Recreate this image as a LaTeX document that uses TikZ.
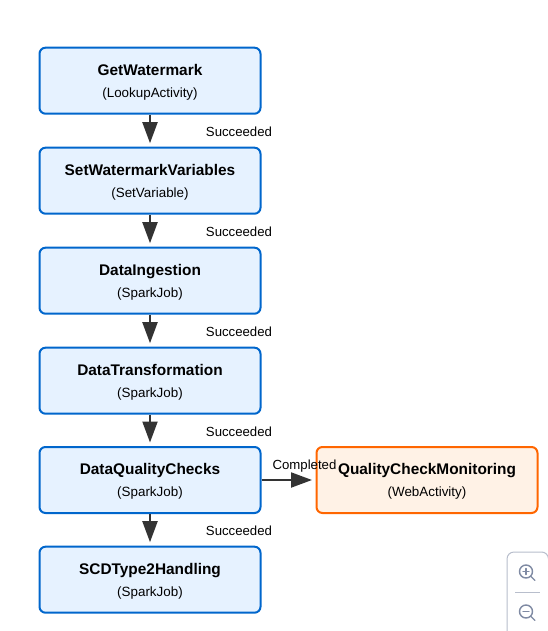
\documentclass[tikz,border=0pt]{standalone}
\usepackage{fontspec}
\setmainfont{Liberation Sans}
\usetikzlibrary{arrows.meta,positioning}
\definecolor{bluefill}{HTML}{E6F2FF}
\definecolor{blueline}{HTML}{0066CC}
\definecolor{orangefill}{HTML}{FFF2E6}
\definecolor{orangeline}{HTML}{FF6600}
\definecolor{arrowgrey}{HTML}{333333}
\definecolor{ctrlgrey}{HTML}{7F8AA3}
\definecolor{ctrledge}{HTML}{B8BECC}
\tikzset{
  x=1pt,y=-1pt,
  activity/.style={rectangle,rounded corners=6pt,line width=2pt,minimum width=221pt,minimum height=66pt,inner sep=0pt,align=center,draw=blueline,fill=bluefill},
  monitor/.style={activity,draw=orangeline,fill=orangefill},
  flow/.style={draw=arrowgrey,line width=2pt,-{Triangle[length=21pt,width=15pt]},shorten >=3.5pt},
  edgelabel/.style={inner sep=0pt,font=\fontsize{13.2}{15}\selectfont,text=black,text height=9.6pt,text depth=0pt},
  ctrlicon/.style={draw=ctrlgrey,line width=1.4pt,line cap=round},
}
\newcommand{\act}[2]{{\fontsize{15.4}{18}\selectfont\bfseries\rule[-4pt]{0pt}{19pt}#1}\\[7.5pt]{\fontsize{13.4}{15}\selectfont\rule[-4pt]{0pt}{13pt}#2}}
\begin{document}
\begin{tikzpicture}
\useasboundingbox (0,0) rectangle (547,631);
\fill[white] (0,0) rectangle (547,631);
\node[activity] (a) at (150,80.7) {\act{GetWatermark}{(LookupActivity)}};
\node[activity] (b) at (150,180.7) {\act{SetWatermarkVariables}{(SetVariable)}};
\node[activity] (c) at (150,280.7) {\act{DataIngestion}{(SparkJob)}};
\node[activity] (d) at (150,380.7) {\act{DataTransformation}{(SparkJob)}};
\node[activity] (e) at (150,480) {\act{DataQualityChecks}{(SparkJob)}};
\node[activity] (f) at (150,579.7) {\act{SCDType2Handling}{(SparkJob)}};
\node[monitor] (g) at (427,480) {\act{QualityCheckMonitoring}{(WebActivity)}};
\draw[flow] (a) -- (b);
\draw[flow] (b) -- (c);
\draw[flow] (c) -- (d);
\draw[flow] (d) -- (e);
\draw[flow] (e) -- (f);
\draw[flow] (e) -- (g);
\node[edgelabel] at (239,131.3) {Succeeded};
\node[edgelabel] at (239,231.3) {Succeeded};
\node[edgelabel] at (239,331.3) {Succeeded};
\node[edgelabel] at (239,431.3) {Succeeded};
\node[edgelabel] at (239,530.5) {Succeeded};
\node[edgelabel] at (304.5,464.3) {Completed};
% zoom control
\draw[ctrledge,line width=1pt,fill=white,rounded corners=7pt] (507,552) rectangle (548.5,645);
\draw[ctrledge,line width=1pt] (515,592) -- (540,592);
\draw[ctrlicon] (526,571.5) circle[radius=6.5];
\draw[ctrlicon] (530.8,576.3) -- (534.8,580.3);
\draw[ctrlicon] (523,571.5) -- (529,571.5) (526,568.5) -- (526,574.5);
\draw[ctrlicon] (526,611.5) circle[radius=6.5];
\draw[ctrlicon] (530.8,616.3) -- (534.8,620.3);
\draw[ctrlicon] (523,611.5) -- (529,611.5);
\end{tikzpicture}
\end{document}
